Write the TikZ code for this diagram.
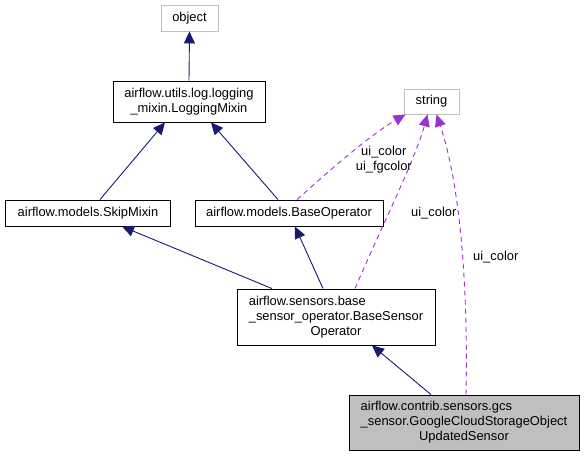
\documentclass[tikz,border=0pt]{standalone}
\usepackage{fontspec}
\setmainfont{Liberation Sans}
\usetikzlibrary{arrows.meta}
\definecolor{navyc}{HTML}{191970}
\definecolor{purp}{HTML}{9A32CD}
\definecolor{grayb}{HTML}{BFBFBF}
\begin{document}
\begin{tikzpicture}[x=1pt,y=-1pt,
  cls/.style={draw=black,line width=0.9pt,rectangle,inner sep=0pt,font=\fontsize{12.9}{15}\selectfont},
  ext/.style={draw=grayb,line width=0.9pt,rectangle,inner sep=0pt,font=\fontsize{12.9}{15}\selectfont},
  inh/.style={draw=navyc,line width=0.9pt,-{Triangle[length=12pt,width=11pt,fill=navyc]}},
  usage/.style={draw=purp,line width=0.9pt,dash pattern=on 5pt off 4pt,-{Triangle[length=12pt,width=11pt,fill=purp]}},
  lbl/.style={font=\fontsize{12.9}{15}\selectfont,inner sep=0pt,align=center}]
\useasboundingbox (0,0) rectangle (584,456);
\node[ext,minimum width=57pt,minimum height=26pt] (obj) at (189.5,18) {object};
\node[cls,minimum width=152pt,minimum height=41pt,align=center] (lm) at (189,101.5) {airflow.utils.log.logging\\\_mixin.LoggingMixin};
\node[cls,minimum width=165pt,minimum height=26pt] (skip) at (88,213) {airflow.models.SkipMixin};
\node[cls,minimum width=188pt,minimum height=26pt] (bo) at (289,213) {airflow.models.BaseOperator};
\node[cls,minimum width=198pt,minimum height=56pt] (bso) at (336,317) {\begin{tabular}{@{}l@{}}airflow.sensors.base\\\_sensor\_operator.BaseSensor\\\multicolumn{1}{@{}c@{}}{Operator}\end{tabular}};
\node[cls,fill=grayb,minimum width=230pt,minimum height=55pt] (gcs) at (464,422.5) {\begin{tabular}{@{}l@{}}airflow.contrib.sensors.gcs\\\_sensor.GoogleCloudStorageObject\\\multicolumn{1}{@{}c@{}}{UpdatedSensor}\end{tabular}};
\node[ext,minimum width=55pt,minimum height=25pt] (str) at (431.5,101.5) {string};
% inheritance
\draw[inh] (lm.north) -- (obj.south);
\draw[inh] ([xshift=12pt]skip.north) -- ([xshift=-24pt]lm.south);
\draw[inh] ([xshift=-11pt]bo.north) -- ([xshift=22pt]lm.south);
\draw[inh] ([xshift=-64pt]bso.north) -- ([xshift=34pt]skip.south);
\draw[inh] ([xshift=-13pt]bso.north) -- ([xshift=6pt]bo.south);
\draw[inh] ([xshift=-33pt]gcs.north) -- ([xshift=36pt]bso.south);
% usage
\draw[usage] ([xshift=8pt]bo.north) .. controls (330,170) and (370,135) .. ([xshift=-26pt]str.south);
\draw[usage] ([xshift=19pt]bso.north) .. controls (380,230) and (415,160) .. ([xshift=-4pt]str.south);
\draw[usage] ([xshift=2pt]gcs.north) .. controls (468,300) and (462,190) .. ([xshift=5pt]str.south);
\node[lbl,anchor=east] (l1) at (412,160) {ui\_color\\ui\_fgcolor};
\node[lbl,anchor=west] (l2) at (411,213) {ui\_color};
\node[lbl,anchor=west] (l3) at (473,257) {ui\_color};
\end{tikzpicture}
\end{document}
